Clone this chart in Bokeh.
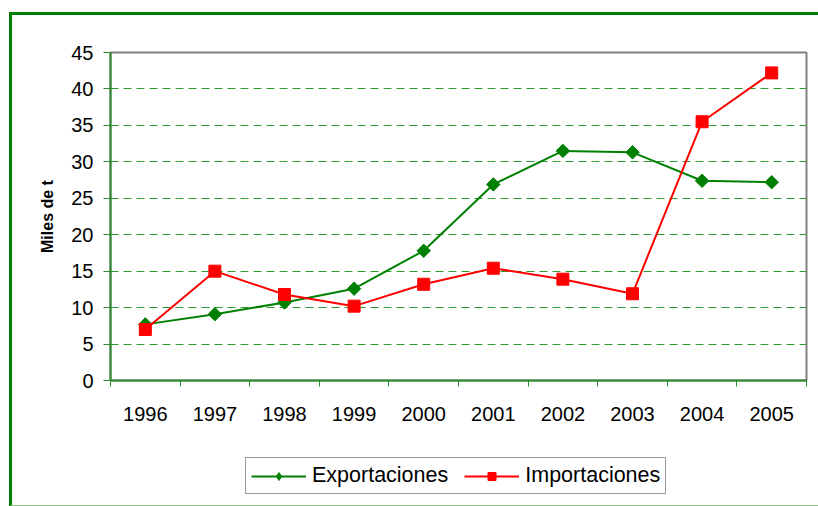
import math
from bokeh.plotting import figure
from bokeh.layouts import column
from bokeh.models import Range1d, FixedTicker, Legend, LegendItem
from bokeh.embed import file_html
from bokeh.resources import INLINE

years = ["1996", "1997", "1998", "1999", "2000", "2001", "2002", "2003", "2004", "2005"]
exportaciones = [7.7, 9.1, 10.7, 12.6, 17.8, 26.9, 31.5, 31.3, 27.4, 27.2]
importaciones = [7.0, 15.0, 11.8, 10.2, 13.2, 15.4, 13.9, 11.9, 35.5, 42.2]
y_ticks = [0, 5, 10, 15, 20, 25, 30, 35, 40, 45]
series_names = ["Exportaciones", "Importaciones"]

xs = [i + 0.5 for i in range(len(years))]

FONT = "Liberation Sans"
GREEN = "#008000"
RED = "#ff0000"
AXIS = "#2e8b2e"

p = figure(width=806, height=430, output_backend="svg", toolbar_location=None,
           x_range=Range1d(0, len(years)), y_range=Range1d(0, 45),
           min_border_left=98, min_border_right=12, min_border_top=37, min_border_bottom=65)

p.background_fill_color = "white"
p.border_fill_color = "white"
p.outline_line_color = "#808080"
p.outline_line_width = 2

# x axis: labels at centers, ticks at category boundaries
p.xaxis.ticker = FixedTicker(ticks=xs, minor_ticks=list(range(len(years) + 1)))
p.xaxis.major_label_overrides = {x: y for x, y in zip(xs, years)}
p.xaxis.major_tick_line_color = None
p.xaxis.minor_tick_line_color = AXIS
p.xaxis.minor_tick_line_width = 1
p.xaxis.minor_tick_out = 6
p.xaxis.minor_tick_in = 0
p.xaxis.major_label_standoff = 20
p.xaxis.axis_line_color = AXIS
p.xaxis.axis_line_width = 2
p.xaxis.major_label_text_font = FONT
p.xaxis.major_label_text_font_size = "20px"
p.xaxis.major_label_text_color = "black"

p.yaxis.ticker = FixedTicker(ticks=y_ticks)
p.yaxis.minor_tick_line_color = None
p.yaxis.major_tick_line_color = AXIS
p.yaxis.major_tick_out = 7
p.yaxis.major_tick_in = 0
p.yaxis.axis_line_color = AXIS
p.yaxis.axis_line_width = 2
p.yaxis.major_label_text_font = FONT
p.yaxis.major_label_text_font_size = "20px"
p.yaxis.major_label_text_color = "black"
p.yaxis.major_label_standoff = 10
p.yaxis.axis_label = "Miles de t"
p.yaxis.axis_label_text_font = FONT
p.yaxis.axis_label_text_font_size = "16px"
p.yaxis.axis_label_text_font_style = "bold"
p.yaxis.axis_label_text_color = "black"
p.yaxis.axis_label_standoff = 12

p.xgrid.grid_line_color = None
p.ygrid.ticker = FixedTicker(ticks=y_ticks[1:-1])
p.ygrid.grid_line_color = "#2f9a2f"
p.ygrid.grid_line_dash = "8 5"
p.ygrid.grid_line_width = 1

p.line(xs, exportaciones, line_color=GREEN, line_width=2)
p.scatter(xs, exportaciones, marker="square", size=9.5, angle=math.pi / 4,
          fill_color=GREEN, line_color=GREEN)
p.line(xs, importaciones, line_color=RED, line_width=2)
p.scatter(xs, importaciones, marker="square", size=12,
          fill_color=RED, line_color=RED)

# legend strip below the chart: same series, ranges chosen so only the legend shows
q = figure(width=806, height=60, output_backend="svg", toolbar_location=None,
           x_range=Range1d(0, 1), y_range=Range1d(-2, -1),
           x_axis_location=None, y_axis_location=None, min_border=0)
q.outline_line_color = None
q.grid.grid_line_color = None
q.background_fill_color = "white"
q.border_fill_color = "white"
k1 = q.line(xs, exportaciones, line_color=GREEN, line_width=2)
k1m = q.scatter(xs, exportaciones, marker="diamond", size=14,
                fill_color=GREEN, line_color=GREEN)
k2 = q.line(xs, importaciones, line_color=RED, line_width=2)
k2m = q.scatter(xs, importaciones, marker="square", size=11, fill_color=RED, line_color=RED)

legend = Legend(items=[LegendItem(label=series_names[0], renderers=[k1, k1m]),
                       LegendItem(label=series_names[1], renderers=[k2, k2m])],
                orientation="horizontal", location=(135, 11))
legend.label_text_font = FONT
legend.label_text_font_size = "21.5px"
legend.label_text_color = "black"
legend.label_height = 20
legend.glyph_width = 55
legend.glyph_height = 20
legend.label_standoff = 6
legend.spacing = 16
legend.padding = 5
legend.margin = 0
legend.border_line_color = "#333333"
legend.border_line_width = 1
legend.background_fill_color = "white"
legend.background_fill_alpha = 1
q.add_layout(legend, "center")

layout = column(p, q, spacing=0)
layout.styles = {"margin-left": "9px", "margin-top": "12px",
                 "border-left": "3px solid #008000", "border-top": "3px solid #008000",
                 "border-bottom": "1px solid #80c080"}

open("out.html", "w").write(file_html(layout, INLINE))
